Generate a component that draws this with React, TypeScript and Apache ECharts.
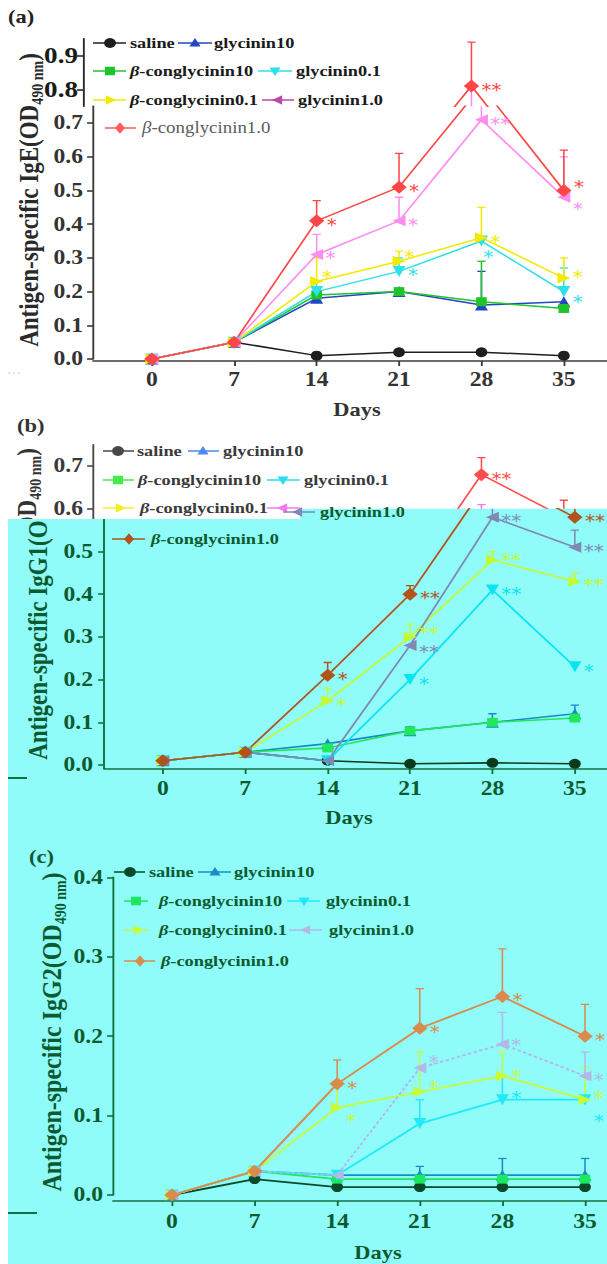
import React, { useEffect, useRef } from 'react';
import * as echarts from 'echarts';

// ---------------- data ----------------
const days = [0, 7, 14, 21, 28, 35];
const groups = ['saline', 'glycinin10', 'β-conglycinin10', 'glycinin0.1', 'β-conglycinin0.1', 'glycinin1.0', 'β-conglycinin1.0'];

const yTicksAUpper = [0.8, 0.9];
const yMinorAUpper = [0.85];
const yTicksALower = [0, 0.1, 0.2, 0.3, 0.4, 0.5, 0.6, 0.7];
const yMinorALower = [0.05, 0.15, 0.25, 0.35, 0.45, 0.55, 0.65];
const yTicksBUpper = [0.6, 0.7];
const yMinorBUpper = [0.65];
const yTicksBLower = [0, 0.1, 0.2, 0.3, 0.4, 0.5];
const yMinorBLower = [0.05, 0.15, 0.25, 0.35, 0.45, 0.55];
const yTicksC = [0, 0.1, 0.2, 0.3, 0.4];
const yMinorC = [0.05, 0.15, 0.25, 0.35];

// (a) IgE
const igeSaline = [0, 0.05, 0.01, 0.02, 0.02, 0.01];
const igeGly10 = [0, 0.05, 0.18, 0.2, 0.16, 0.17];
const igeCon10 = [0, 0.05, 0.19, 0.2, 0.17, 0.15];
const igeGly01 = [0, 0.05, 0.2, 0.26, 0.35, 0.2];
const igeCon01 = [0, 0.05, 0.23, 0.29, 0.36, 0.24];
const igeGly1 = [0, 0.05, 0.31, 0.41, 0.71, 0.48];
const igeCon1 = [0, 0.05, 0.41, 0.51, 0.81, 0.5];
const noErr = [null, null, null, null, null, null];
const igeGly10Err = [null, null, null, null, 0.26, null];
const igeCon10Err = [null, null, null, null, 0.29, null];
const igeGly01Err = [null, null, 0.23, 0.3, null, 0.27];
const igeCon01Err = [null, null, 0.3, 0.32, 0.45, 0.3];
const igeGly1Err = [null, null, 0.37, 0.48, 0.8, 0.6];
const igeCon1Err = [null, null, 0.47, 0.61, 0.94, 0.62];
const sigNone = ['', '', '', '', '', ''];
const igeSigGly01 = ['', '', '', '*', '*', '*'];
const igeSigCon01 = ['', '', '*', '*', '*', '*'];
const igeSigGly1 = ['', '', '*', '*', '**', '*'];
const igeSigCon1 = ['', '', '*', '*', '**', '*'];

// (b) IgG1
const igg1Saline = [0.01, 0.03, 0.01, 0.003, 0.005, 0.003];
const igg1Gly10 = [0.01, 0.03, 0.05, 0.08, 0.1, 0.12];
const igg1Con10 = [0.01, 0.03, 0.04, 0.08, 0.1, 0.11];
const igg1Gly01 = [0.01, 0.03, 0.01, 0.2, 0.41, 0.23];
const igg1Con01 = [0.01, 0.03, 0.15, 0.3, 0.48, 0.43];
const igg1Gly1 = [0.01, 0.03, 0.01, 0.28, 0.58, 0.51];
const igg1Con1 = [0.01, 0.03, 0.21, 0.4, 0.68, 0.58];
const igg1Gly10Err = [null, null, null, 0.09, 0.12, 0.14];
const igg1Con01Err = [null, null, 0.18, 0.33, 0.5, 0.45];
const igg1Gly1Err = [null, null, null, null, 0.61, 0.55];
const igg1Con1Err = [null, null, 0.24, 0.42, 0.72, 0.62];
const igg1SigGly01 = ['', '', '', '*', '**', '*'];
const igg1SigCon01 = ['', '', '*', '**', '**', '**'];
const igg1SigGly1 = ['', '', '', '**', '**', '**'];
const igg1SigCon1 = ['', '', '*', '**', '**', '**'];

// (c) IgG2
const igg2Saline = [0, 0.02, 0.01, 0.01, 0.01, 0.01];
const igg2Gly10 = [0, 0.03, 0.025, 0.025, 0.025, 0.025];
const igg2Con10 = [0, 0.03, 0.02, 0.02, 0.02, 0.02];
const igg2Gly01 = [0, 0.03, 0.025, 0.09, 0.12, 0.12];
const igg2Con01 = [0, 0.03, 0.11, 0.13, 0.15, 0.12];
const igg2Gly1 = [0, 0.03, 0.025, 0.16, 0.19, 0.15];
const igg2Con1 = [0, 0.03, 0.14, 0.21, 0.25, 0.2];
const igg2Gly10Err = [null, null, null, 0.036, 0.046, 0.046];
const igg2Gly01Err = [null, null, null, 0.12, 0.15, null];
const igg2Con01Err = [null, null, 0.14, 0.18, 0.18, 0.16];
const igg2Gly1Err = [null, null, null, null, 0.23, 0.18];
const igg2Con1Err = [null, null, 0.17, 0.26, 0.31, 0.24];
const igg2SigGly01 = ['', '', '', '', '*', '*'];
const igg2SigCon01 = ['', '', '*', '*', '*', '*'];
const igg2SigGly1 = ['', '', '', '*', '*', '*'];
const igg2SigCon1 = ['', '', '*', '*', '*', '*'];

const panelA = {
  key: 'A',
  vals: [igeSaline, igeGly10, igeCon10, igeGly01, igeCon01, igeGly1, igeCon1],
  errs: [noErr, igeGly10Err, igeCon10Err, igeGly01Err, igeCon01Err, igeGly1Err, igeCon1Err],
  sig: [sigNone, sigNone, sigNone, igeSigGly01, igeSigCon01, igeSigGly1, igeSigCon1],
};
const panelB = {
  key: 'B',
  vals: [igg1Saline, igg1Gly10, igg1Con10, igg1Gly01, igg1Con01, igg1Gly1, igg1Con1],
  errs: [noErr, igg1Gly10Err, noErr, noErr, igg1Con01Err, igg1Gly1Err, igg1Con1Err],
  sig: [sigNone, sigNone, sigNone, igg1SigGly01, igg1SigCon01, igg1SigGly1, igg1SigCon1],
};
const panelC = {
  key: 'C',
  vals: [igg2Saline, igg2Gly10, igg2Con10, igg2Gly01, igg2Con01, igg2Gly1, igg2Con1],
  errs: [noErr, igg2Gly10Err, noErr, igg2Gly01Err, igg2Con01Err, igg2Gly1Err, igg2Con1Err],
  sig: [sigNone, sigNone, sigNone, igg2SigGly01, igg2SigCon01, igg2SigGly1, igg2SigCon1],
};

// ---------------- layout / style ----------------
const CW = 514;
const S = 607 / CW; // horizontal stretch of the reference
const X = (v: number) => v / S;
const SERIF = '"Liberation Serif", "Times New Roman", serif';
const GREEN_TXT = '#0d5a30';
const GREEN_AXIS = '#16703e';

const colA = ['#1e1e1e', '#2446c6', '#1fc42a', '#2ee0e8', '#f2ea00', '#ff8cf0', '#ff4646'];
const legColA = ['#1e1e1e', '#2446c6', '#1fc42a', '#2ee0e8', '#f2ea00', '#b84aa8', '#ff5a5a'];
const colBW = ['#484848', '#4a8ae8', '#46ea46', '#24e0f2', '#f2f024', '#ff72f0', '#ff4c4c'];
const colBC = ['#0c3a1c', '#1a88c8', '#20e858', '#08e4f2', '#c4fa30', '#8088b4', '#b0541c'];
const colC = ['#0b4a28', '#1a8cc4', '#1ae860', '#20eafa', '#c8fa38', '#b4b8e8', '#da8a4c'];

const SYM = ['circle', 'triangle', 'rect', 'triangle', 'triangle', 'triangle', 'diamond'];
const ROT = [0, 0, 0, 180, -90, 90, 0];
const SIZE = [10, 11, 9, 11, 11, 11, 13];

// per-point nudges of the significance stars (panel-group-dayIndex -> [dx, dy])
const STAR_NUDGE: Record<string, number[]> = {
  'A-3-4': [-6, 12], 'A-4-2': [-3, -8], 'A-4-3': [-3, -8], 'A-5-5': [0, 8], 'A-6-5': [0, -7],
  'A-4-5': [0, -5], 'A-3-5': [0, 6],
  'B-4-3': [0, -8], 'B-5-3': [0, 3], 'B-4-4': [0, -4],
  'C-4-2': [0, 9], 'C-4-3': [0, -9], 'C-4-4': [0, -4], 'C-4-5': [0, -6],
  'C-3-4': [0, -6], 'C-3-5': [0, 17], 'C-5-3': [0, -10], 'C-5-4': [0, -3],
};

function lineSeries(panel: any, g: number, axis: number, colors: string[], z: number, lw: number, dashed: boolean, labelMin: number) {
  const vals = panel.vals[g];
  return {
    type: 'line',
    name: groups[g],
    xAxisIndex: axis,
    yAxisIndex: axis,
    data: days.map((d, i) => {
      const n = STAR_NUDGE[panel.key + '-' + g + '-' + i];
      return n ? { value: [d, vals[i]], label: { offset: [n[0], 4 + n[1]] } } : [d, vals[i]];
    }),
    symbol: SYM[g],
    symbolRotate: ROT[g],
    symbolSize: SIZE[g],
    itemStyle: { color: colors[g] },
    lineStyle: { color: colors[g], width: lw, type: dashed ? [3, 2] : 'solid' },
    clip: true,
    z,
    silent: true,
    emphasis: { disabled: true },
    label: {
      show: true,
      position: 'right',
      distance: 2,
      offset: [0, 4],
      formatter: (p: any) => (vals[p.dataIndex] >= labelMin ? panel.sig[g][p.dataIndex] : ''),
      color: colors[g],
      fontSize: 17,
      lineHeight: 12,
      fontFamily: '"DejaVu Sans", sans-serif',
    },
  };
}

function errSeries(panel: any, g: number, axis: number, color: string, z: number) {
  const errs = panel.errs[g];
  const vals = panel.vals[g];
  const data = days.map((d, i) => [d, vals[i], errs[i]]).filter((r) => r[2] != null);
  if (!data.length) return null;
  return {
    type: 'custom',
    xAxisIndex: axis,
    yAxisIndex: axis,
    clip: true,
    z,
    silent: true,
    data,
    encode: { x: 0, y: [1, 2] },
    renderItem: (params: any, api: any) => {
      const p0 = api.coord([api.value(0), api.value(1)]);
      const p1 = api.coord([api.value(0), api.value(2)]);
      return {
        type: 'group',
        children: [
          { type: 'line', shape: { x1: p0[0], y1: p0[1], x2: p1[0], y2: p1[1] }, style: { stroke: color, lineWidth: 1.3 } },
          { type: 'line', shape: { x1: p1[0] - 3.5, y1: p1[1], x2: p1[0] + 3.5, y2: p1[1] }, style: { stroke: color, lineWidth: 1.3 } },
        ],
      };
    },
  };
}

function yAxesFor(i: number, min: number, max: number, majors: number[], minors: number[], color: string, labelColor: string, fontSize: number, margin: number, z: number, showLine = true) {
  return [
    {
      type: 'value', gridIndex: i, min, max, z,
      axisLine: { show: showLine, onZero: false, lineStyle: { color, width: 1.6 } },
      axisTick: { show: true, customValues: majors, length: 5, lineStyle: { color, width: 1.6 } },
      axisLabel: {
        show: true, customValues: majors, formatter: (v: any) => Number(v).toFixed(1), margin,
        color: labelColor, fontSize, fontWeight: 'bold', fontFamily: SERIF,
      },
      splitLine: { show: false },
    },
    {
      type: 'value', gridIndex: i, min, max, z,
      axisLine: { show: false, onZero: false },
      axisTick: { show: true, customValues: minors, length: 3, lineStyle: { color, width: 1.2 } },
      axisLabel: { show: false },
      splitLine: { show: false },
    },
  ];
}

function xAxisFor(i: number, visible: boolean, offset: number, color: string, labelColor: string, margin: number, z: number) {
  if (!visible) return { type: 'value', gridIndex: i, min: -5, max: 40, show: false };
  return {
    type: 'value', gridIndex: i, min: -5, max: 40, offset, z,
    axisLine: { show: true, onZero: false, lineStyle: { color, width: 1.6 } },
    axisTick: { show: true, customValues: days, length: 5, lineStyle: { color, width: 1.6 } },
    axisLabel: { show: true, customValues: days, margin, color: labelColor, fontSize: 20, fontWeight: 'bold', fontFamily: SERIF },
    splitLine: { show: false },
  };
}

function markerEl(g: number, cx: number, cy: number, r: number, color: string, z: number) {
  const st = { fill: color };
  if (g === 0) return { type: 'circle', z, shape: { cx, cy, r }, style: st };
  if (g === 2) return { type: 'rect', z, shape: { x: cx - r * 0.85, y: cy - r * 0.85, width: r * 1.7, height: r * 1.7 }, style: st };
  let pts: number[][];
  if (g === 1) pts = [[cx, cy - r], [cx + r * 0.95, cy + r * 0.7], [cx - r * 0.95, cy + r * 0.7]];
  else if (g === 3) pts = [[cx, cy + r], [cx + r * 0.95, cy - r * 0.7], [cx - r * 0.95, cy - r * 0.7]];
  else if (g === 4) pts = [[cx + r, cy], [cx - r * 0.7, cy - r * 0.95], [cx - r * 0.7, cy + r * 0.95]];
  else if (g === 5) pts = [[cx - r, cy], [cx + r * 0.7, cy - r * 0.95], [cx + r * 0.7, cy + r * 0.95]];
  else pts = [[cx, cy - r * 1.15], [cx + r * 0.85, cy], [cx, cy + r * 1.15], [cx - r * 0.85, cy]];
  return { type: 'polygon', z, shape: { points: pts }, style: st };
}

function nameText(x: number, y: number, name: string, size: number, weight: string, color: string, z: number) {
  const base = { fontFamily: SERIF, fontSize: size, fontWeight: weight, fontStyle: 'normal', fill: color, color };
  const text = name.startsWith('β') ? '{i|β}{n|' + name.slice(1) + '}' : '{n|' + name + '}';
  return {
    type: 'text', x, y, z,
    style: {
      text, ...base,
      rich: { i: { ...base, fontStyle: 'italic' }, n: { ...base } },
      align: 'left', verticalAlign: 'middle', textAlign: 'left', textVerticalAlign: 'middle',
    },
  };
}

// item: [lineStart, lineEnd, markerX, groupIndex, textX, showText(1/0)]
function legendRows(rows: any[], colors: string[], size: number, weight: string, txtColor: string, z: number) {
  const out: any[] = [];
  rows.forEach((row) => {
    row.items.forEach((it: number[]) => {
      const [x1, x2, mx, g, tx, showText] = it;
      out.push({ type: 'line', z, shape: { x1: X(x1), y1: row.y, x2: X(x2), y2: row.y }, style: { stroke: colors[g], lineWidth: 1.5 } });
      out.push(markerEl(g, X(mx), row.y, 5, colors[g], z));
      if (showText !== 0) out.push(nameText(X(tx), row.y, groups[g], size, weight, txtColor, z));
    });
  });
  return out;
}

function plainText(x: number, y: number, text: string, size: number, color: string, z: number, align = 'center') {
  return {
    type: 'text', x, y, z,
    style: {
      text, fontFamily: SERIF, fontSize: size, fontWeight: 'bold', fill: color,
      align, verticalAlign: 'middle', textAlign: align, textVerticalAlign: 'middle',
    },
  };
}

function yTitle(x: number, y: number, text: string, size: number, color: string, z: number) {
  const m = { fontFamily: SERIF, fontSize: size, fontWeight: 'bold', fill: color, color, lineHeight: size + 4, verticalAlign: 'middle' };
  const s = { fontFamily: SERIF, fontSize: Math.round(size * 0.6), fontWeight: 'bold', fill: color, color, lineHeight: Math.round(size * 0.6), verticalAlign: 'bottom' };
  const clear = 'rgba(0,0,0,0)';
  return {
    type: 'text', x, y, z, rotation: Math.PI / 2,
    style: {
      text, fontFamily: SERIF, fontSize: size, fontWeight: 'bold', fill: color,
      rich: { m, s, h: { ...m, fill: clear, color: clear }, hs: { ...s, fill: clear, color: clear } },
      align: 'center', verticalAlign: 'middle', textAlign: 'center', textVerticalAlign: 'middle',
    },
  };
}

function buildOption() {
  const W = X(529.7);
  const grid = [
    { left: X(83), top: 38.85, width: W, height: 67.4 },
    { left: X(93), top: 106.25, width: W, height: 252.75 },
    { left: X(93), top: 444.75, width: W, height: 74.25 },
    { left: X(104), top: 508.8, width: W, height: 256.2 },
    { left: X(113), top: 877.4, width: X(531), height: 317.6 },
  ].map((g) => ({ ...g, containLabel: false, outerBoundsMode: 'none' }));

  const xAxis = [
    xAxisFor(0, false, 0, '', '', 0, 0),
    xAxisFor(1, true, 2, '#3c3c3c', '#333333', 9, 1),
    xAxisFor(2, false, 0, '', '', 0, 0),
    xAxisFor(3, true, 4, GREEN_AXIS, GREEN_TXT, 10, 10),
    xAxisFor(4, true, 6, GREEN_AXIS, GREEN_TXT, 11, 10),
  ];
  const ya = [
    yAxesFor(0, 0.75, 0.95, yTicksAUpper, yMinorAUpper, '#2a2a2a', '#1a1a1a', 23, X(5), 1),
    yAxesFor(1, 0, 0.75, yTicksALower, yMinorALower, '#3c3c3c', '#333333', 20, X(10), 1),
    yAxesFor(2, 0.6 - 10.2 / 427, 0.75, yTicksBUpper, yMinorBUpper, '#4a4a4a', '#3a3a3a', 20, X(10), 1),
    yAxesFor(3, 0, 0.6, yTicksBLower, yMinorBLower, GREEN_AXIS, GREEN_TXT, 20, X(11), 10, false),
    yAxesFor(4, 0, 0.4, yTicksC, yMinorC, GREEN_AXIS, GREEN_TXT, 20, X(10), 10),
  ];
  const yAxis = [...ya.map((p) => p[0]), ...ya.map((p) => p[1])];

  const inst = [
    { panel: panelA, axis: 0, colors: colA, z: 2, lw: 1.5, dashedGly1: false, labelMin: 0 },
    { panel: panelA, axis: 1, colors: colA, z: 2, lw: 1.5, dashedGly1: false, labelMin: 0 },
    { panel: panelB, axis: 2, colors: colBW, z: 2, lw: 1.5, dashedGly1: false, labelMin: 0.6 },
    { panel: panelB, axis: 3, colors: colBC, z: 12, lw: 1.6, dashedGly1: false, labelMin: 0 },
    { panel: panelC, axis: 4, colors: colC, z: 12, lw: 1.8, dashedGly1: true, labelMin: 0 },
  ];
  const series: any[] = [];
  inst.forEach((it) => {
    for (let g = 0; g < groups.length; g++) {
      const e = errSeries(it.panel, g, it.axis, it.colors[g], it.z);
      if (e) series.push(e);
      series.push(lineSeries(it.panel, g, it.axis, it.colors, it.z, it.lw, it.dashedGly1 && g === 5, it.labelMin));
    }
  });

  const legendA = [
    { y: 43, items: [[93, 126, 110, 0, 130], [178, 212, 195, 1, 214]] },
    { y: 71, items: [[93, 126, 110, 2, 130], [258, 292, 275, 3, 296]] },
    { y: 100, items: [[93, 126, 110, 4, 130], [262, 294, 278, 5, 298]] },
  ];
  const legendA4 = [{ y: 128, items: [[105, 136, 120, 6, 142]] }];
  const legendBW = [
    { y: 451, items: [[103, 134, 118, 0, 137], [188, 219, 203, 1, 223]] },
    { y: 480, items: [[103, 134, 118, 2, 138], [267, 300, 283, 3, 304]] },
    { y: 508, items: [[103, 134, 120, 4, 140], [267, 300, 283, 5, 304, 0]] },
  ];
  const legendBC = [
    { y: 512, items: [[283, 315, 298, 5, 320]] },
    { y: 539, items: [[112, 145, 129, 6, 151]] },
  ];
  const legendC = [
    { y: 872, items: [[114, 145, 130, 0, 149], [198, 231, 215, 1, 234]] },
    { y: 901, items: [[124, 148, 136, 2, 159], [287, 320, 304, 3, 326]] },
    { y: 930, items: [[124, 148, 138, 4, 159], [289, 322, 306, 5, 329]] },
    { y: 961, items: [[124, 155, 140, 6, 161]] },
  ];

  const graphic: any[] = [
    // cyan band (its top edge steps, as in the reference)
    {
      type: 'polygon', z: 5,
      shape: { points: [[X(8), 519], [X(300), 519], [X(300), 508.8], [CW, 508.8], [CW, 1264], [X(8), 1264]] },
      style: { fill: '#8ffcfa' },
    },
    { type: 'line', z: 10, shape: { x1: X(104), y1: 519, x2: X(104), y2: 769 }, style: { stroke: GREEN_AXIS, lineWidth: 1.6 } },
    { type: 'line', z: 6, shape: { x1: X(8), y1: 778, x2: X(27), y2: 778 }, style: { stroke: '#137040', lineWidth: 2 } },
    { type: 'line', z: 6, shape: { x1: X(8), y1: 1213, x2: X(37), y2: 1213 }, style: { stroke: '#137040', lineWidth: 2 } },
    { type: 'line', z: 3, shape: { x1: X(8), y1: 373, x2: X(20), y2: 373 }, style: { stroke: '#d0d0d0', lineWidth: 1, lineDash: [2, 2] } },
    // panel labels
    plainText(X(8), 16, '(a)', 19, '#222222', 3, 'left'),
    plainText(X(17), 425, '(b)', 19, '#333333', 3, 'left'),
    plainText(X(29), 856, '(c)', 19, GREEN_TXT, 15, 'left'),
    // axis names
    plainText(X(357), 409, 'Days', 19, '#333333', 3),
    plainText(X(349), 817, 'Days', 19, GREEN_TXT, 15),
    plainText(X(378), 1252, 'Days', 19, GREEN_TXT, 15),
    yTitle(X(29), 200, '{m|Antigen-specific IgE(OD}{s|490 nm}{m|)}', 23, '#2a2a2a', 3),
    yTitle(X(27), 602, '{m|Antigen-specific IgG1(OD}{s|490 nm}{m|)}', 23, '#333333', 3),
    yTitle(X(38), 606, '{m|Antigen-specific IgG1(O}{h|D}{hs|490 nm}{h|)}', 23, GREEN_TXT, 15),
    yTitle(X(52), 1032, '{m|Antigen-specific IgG2(OD}{s|490 nm}{m|)}', 24, GREEN_TXT, 15),
    // legends
    ...legendRows(legendA, legColA, 15.5, 'bold', '#1a1a1a', 3),
    ...legendRows(legendA4, legColA, 16, 'normal', '#5c5c5c', 3),
    ...legendRows(legendBW, colBW, 15.5, 'bold', '#3a3a3a', 3),
    ...legendRows(legendBC, colBC, 15.5, 'bold', GREEN_TXT, 15),
    ...legendRows(legendC, colC, 15.5, 'bold', GREEN_TXT, 15),
  ];

  return {
    animation: false,
    backgroundColor: '#ffffff',
    grid,
    xAxis,
    yAxis,
    series,
    graphic: { elements: graphic },
  };
}

export default function App() {
  const ref = useRef<HTMLDivElement>(null);
  useEffect(() => {
    document.body.style.margin = '0';
    document.body.style.overflow = 'hidden';
    const chart = echarts.init(ref.current as HTMLDivElement, null, { renderer: 'svg' });
    chart.setOption(buildOption() as any);
    return () => chart.dispose();
  }, []);
  return (
    <div
      ref={ref}
      style={{ width: CW, height: 1264, transform: `scaleX(${S})`, transformOrigin: '0 0' }}
    />
  );
}
